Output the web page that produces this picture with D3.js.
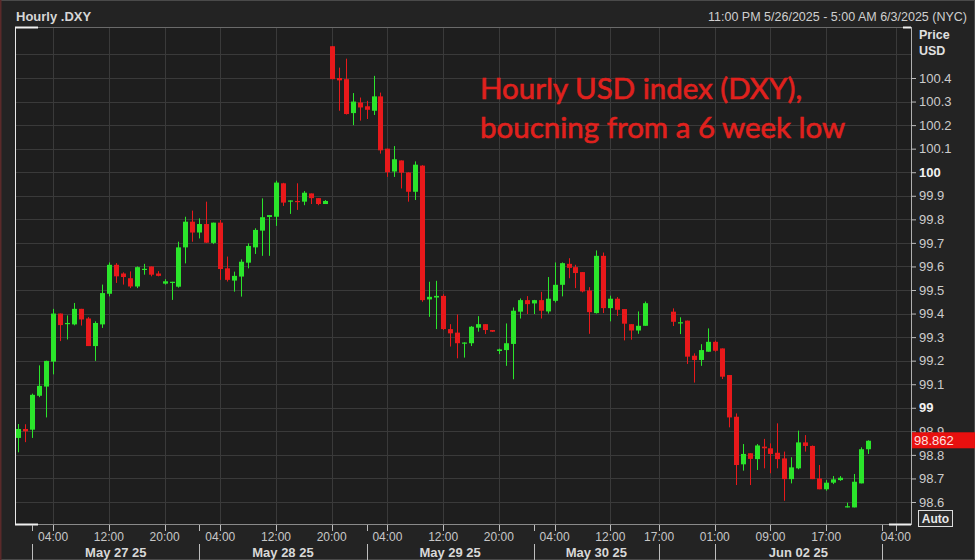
<!DOCTYPE html>
<html><head><meta charset="utf-8">
<script src="https://cdn.jsdelivr.net/npm/d3@7"></script>
<style>
html,body{margin:0;padding:0;background:#222;}
svg{display:block;}
</style></head>
<body><svg id="chart" width="975" height="560"></svg>
<script>
// ---- DATA (hourly .DXY candles) ----
const sessionStarts = [0, 94];           // slot index at which each trading session starts
const sessionLengths = [91, 29];         // candles in each session
const open = [98.872,98.91,98.907,99.051,99.09,99.196,99.4,99.355,99.354,99.42,99.379,99.262,99.354,99.484,99.607,99.57,99.55,99.515,99.585,99.6,99.57,99.527,99.53,99.514,99.681,99.79,99.744,99.78,99.7,99.786,99.592,99.54,99.557,99.616,99.681,99.752,99.81,99.811,99.953,99.875,99.878,99.875,99.91,99.89,99.865,100.535,100.4,100.395,100.251,100.296,100.28,100.261,100.322,100.1,100.003,100.05,99.999,99.917,100.028,99.46,99.468,99.475,99.334,99.319,99.275,99.274,99.34,99.355,99.33,99.241,99.245,99.271,99.408,99.457,99.443,99.457,99.409,99.454,99.522,99.611,99.597,99.576,99.498,99.402,99.645,99.423,99.463,99.419,99.355,99.328,99.348,
99.408,99.36,99.37,99.221,99.203,99.238,99.28,99.252,99.139,98.962,98.76,98.807,98.782,98.835,98.828,98.809,98.785,98.697,98.743,98.853,98.838,98.7,98.654,98.682,98.693,98.578,98.577,98.679,98.824];
const high = [98.931,98.93,99.06,99.18,99.2,99.42,99.4,99.392,99.445,99.42,99.385,99.367,99.523,99.617,99.614,99.575,99.579,99.6,99.611,99.6,99.58,99.546,99.535,99.705,99.811,99.837,99.804,99.875,99.786,99.797,99.642,99.578,99.63,99.698,99.762,99.889,99.818,99.964,99.955,99.88,99.953,99.92,99.91,99.89,99.882,100.535,100.444,100.482,100.336,100.317,100.303,100.409,100.338,100.1,100.111,100.05,100.0,100.046,100.03,99.535,99.539,99.482,99.355,99.396,99.278,99.347,99.389,99.355,99.33,99.251,99.358,99.426,99.464,99.474,99.458,99.492,99.555,99.617,99.617,99.635,99.607,99.576,99.512,99.668,99.659,99.476,99.47,99.419,99.355,99.409,99.451,
99.422,99.384,99.37,99.231,99.27,99.337,99.285,99.252,99.139,98.976,98.846,98.807,98.846,98.868,98.849,98.934,98.814,98.79,98.903,98.884,98.84,98.757,98.693,98.71,98.71,98.597,98.719,98.832,98.862];
const low = [98.811,98.854,98.872,99.045,98.959,99.142,99.283,99.29,99.35,99.349,99.262,99.199,99.339,99.473,99.53,99.523,99.508,99.508,99.565,99.558,99.558,99.523,99.458,99.51,99.613,99.705,99.719,99.7,99.695,99.543,99.536,99.493,99.472,99.592,99.653,99.645,99.645,99.772,99.857,99.823,99.84,99.86,99.865,99.86,99.865,100.395,100.261,100.245,100.2,100.219,100.226,100.243,100.079,99.98,99.98,99.931,99.875,99.882,99.45,99.386,99.334,99.33,99.26,99.21,99.213,99.262,99.323,99.313,99.322,99.228,99.178,99.121,99.379,99.398,99.398,99.379,99.4,99.447,99.473,99.55,99.508,99.49,99.314,99.4,99.402,99.367,99.39,99.286,99.289,99.314,99.348,
99.347,99.313,99.186,99.107,99.178,99.238,99.238,99.122,98.917,98.672,98.733,98.672,98.736,98.743,98.722,98.743,98.605,98.679,98.739,98.814,98.697,98.654,98.648,98.676,98.69,98.577,98.577,98.679,98.804];
const close = [98.91,98.9,99.055,99.093,99.199,99.4,99.351,99.36,99.42,99.375,99.262,99.36,99.487,99.607,99.558,99.555,99.515,99.597,99.59,99.565,99.56,99.537,99.535,99.681,99.79,99.744,99.78,99.701,99.786,99.589,99.543,99.56,99.62,99.687,99.755,99.809,99.818,99.956,99.871,99.88,99.875,99.913,99.89,99.865,99.878,100.395,100.39,100.247,100.3,100.275,100.265,100.322,100.093,100.0,100.055,99.998,99.917,100.032,99.457,99.471,99.475,99.334,99.316,99.274,99.277,99.344,99.355,99.33,99.323,99.248,99.274,99.412,99.457,99.44,99.457,99.412,99.463,99.522,99.614,99.594,99.572,99.494,99.406,99.645,99.423,99.463,99.416,99.357,99.328,99.348,99.444,
99.365,99.363,99.217,99.203,99.245,99.28,99.242,99.132,98.959,98.757,98.804,98.783,98.84,98.828,98.804,98.782,98.697,98.747,98.853,98.838,98.697,98.654,98.682,98.696,98.703,98.582,98.686,98.824,98.86];
const lastPrice = 98.862;

const priceTicks = [98.6,98.7,98.8,98.9,99,99.1,99.2,99.3,99.4,99.5,99.6,99.7,99.8,99.9,100,100.1,100.2,100.3,100.4];
const gridValues = [98.6,98.7,98.8,98.9,99,99.1,99.2,99.3,99.4,99.5,99.6,99.7,99.8,99.9,100,100.1,100.2,100.3,100.4,100.5];
const timeTickSlots  = [5,13,21,29,37,45,53,61,69,77,85,92,100,108,116,126];
const timeTickLabels = ["04:00","12:00","20:00","04:00","12:00","20:00","04:00","12:00","20:00","04:00","12:00","17:00","01:00","09:00","17:00","04:00"];
const daySepSlots = [2,26,50,74,92,100,124];
const dayLabelSlots = [14,38,62,83,112];
const dayLabels = ["May 27 25","May 28 25","May 29 25","May 30 25","Jun 02 25"];
const titleText = "Hourly .DXY";
const rangeText = "11:00 PM 5/26/2025 - 5:00 AM 6/3/2025 (NYC)";
const noteLines = ["Hourly USD index (DXY),","boucning from a 6 week low"];

// ---- BUILD ----
const slots = [];
sessionStarts.forEach((s,i)=>{ for(let k=0;k<sessionLengths[i];k++) slots.push(s+k); });
const candles = slots.map((s,i)=>({slot:s,o:open[i],h:high[i],l:low[i],c:close[i]}));

const W=975,H=560;
const plot={left:15,right:911,top:27,bottom:524};
const svg=d3.select("#chart");
const UP="#2be52b", DN="#e8191b";
const axisFont="'Liberation Sans', Arial, sans-serif";

svg.append("rect").attr("width",W).attr("height",H).attr("fill","#232323");
svg.append("rect").attr("x",0.5).attr("y",0.5).attr("width",W-1).attr("height",H-1).attr("fill","none").attr("stroke","#4a4a4a");
svg.append("line").attr("x1",0.5).attr("x2",0.5).attr("y1",0).attr("y2",H).attr("stroke","#5a2a2a").attr("stroke-width",2);
svg.append("rect").attr("x",plot.left).attr("y",plot.top).attr("width",plot.right-plot.left).attr("height",plot.bottom-plot.top).attr("fill","#1e1e1e");

const x=d3.scaleLinear().domain([0,122]).range([18.3,868]);
const y=d3.scaleLinear().domain([98.6,100.4]).range([502,78]);

svg.append("clipPath").attr("id","clip").append("rect")
  .attr("x",plot.left).attr("y",plot.top).attr("width",plot.right-plot.left).attr("height",plot.bottom-plot.top);

const g=svg.append("g").attr("clip-path","url(#clip)");
// grid
g.selectAll("line.hg").data(gridValues).join("line").attr("class","hg")
  .attr("x1",plot.left).attr("x2",plot.right).attr("y1",d=>Math.round(y(d))+0.5).attr("y2",d=>Math.round(y(d))+0.5)
  .attr("stroke","#3a3a3a").attr("stroke-width",1);
g.selectAll("line.vg").data(timeTickSlots).join("line").attr("class","vg")
  .attr("y1",plot.top).attr("y2",plot.bottom).attr("x1",d=>Math.round(x(d))+0.5).attr("x2",d=>Math.round(x(d))+0.5)
  .attr("stroke","#3a3a3a").attr("stroke-width",1);

// annotation
const note=svg.append("g");
noteLines.forEach((t,i)=>{
  note.append("text").attr("x",480).attr("y",99+i*39).text(t)
    .attr("fill","#e0211d").attr("stroke","#e0211d").attr("stroke-width",0.6)
    .attr("font-family","Lato, 'Open Sans', sans-serif").attr("font-size",29.5);
});

// candles
const cg=g.append("g");
cg.selectAll("line.wick").data(candles).join("line").attr("class","wick")
  .attr("x1",d=>Math.round(x(d.slot))+0.5).attr("x2",d=>Math.round(x(d.slot))+0.5)
  .attr("y1",d=>y(d.h)).attr("y2",d=>y(d.l))
  .attr("stroke",d=>d.c>=d.o?UP:DN).attr("stroke-width",1);
cg.selectAll("rect.body").data(candles).join("rect").attr("class","body")
  .attr("x",d=>Math.round(x(d.slot))-2).attr("width",5)
  .attr("y",d=>y(Math.max(d.o,d.c))).attr("height",d=>Math.max(1.2,Math.abs(y(d.o)-y(d.c))))
  .attr("fill",d=>d.c>=d.o?UP:DN);

// plot frame
svg.append("line").attr("x1",plot.left).attr("x2",plot.right).attr("y1",plot.top+0.5).attr("y2",plot.top+0.5).attr("stroke","#6a6a6a");
svg.append("line").attr("x1",plot.left).attr("x2",plot.right).attr("y1",plot.bottom+0.5).attr("y2",plot.bottom+0.5).attr("stroke","#8a8a8a");
svg.append("line").attr("x1",plot.left+0.5).attr("x2",plot.left+0.5).attr("y1",plot.top).attr("y2",plot.bottom).attr("stroke","#e8e8e8");
svg.append("line").attr("x1",plot.right+0.5).attr("x2",plot.right+0.5).attr("y1",plot.top).attr("y2",plot.bottom+1).attr("stroke","#b0b0b0");
[[plot.left,plot.top,plot.left+23],[plot.right-8,plot.top,plot.right],[plot.left,plot.bottom,plot.left+23],[plot.right-22,plot.bottom,plot.right]].forEach(s=>{
  svg.append("line").attr("x1",s[0]).attr("x2",s[2]).attr("y1",s[1]+0.5).attr("y2",s[1]+0.5).attr("stroke","#f0f0f0").attr("stroke-width",2);
});

// header
svg.append("text").attr("x",16).attr("y",21).text(titleText).attr("fill","#d6d6d6")
  .attr("font-family",axisFont).attr("font-weight","bold").attr("font-size",13);
svg.append("text").attr("x",967).attr("y",21).attr("text-anchor","end").text(rangeText).attr("fill","#cfcfcf")
  .attr("font-family",axisFont).attr("font-size",12.5);

// right axis
const ya=svg.append("g").attr("transform",`translate(${plot.right},0)`)
  .call(d3.axisRight(y).tickValues(priceTicks).tickSize(5).tickPadding(3)
    .tickFormat(d=>d3.format("~g")(+d.toFixed(1))));
ya.select(".domain").remove();
ya.selectAll(".tick line").attr("stroke","#bbbbbb");
ya.selectAll(".tick text").attr("font-family",axisFont).attr("font-size",13)
  .attr("font-weight",d=>Number.isInteger(+d.toFixed(1))?"bold":"normal")
  .attr("fill",d=>Number.isInteger(+d.toFixed(1))?"#f2f2f2":"#cccccc");
svg.append("text").attr("x",919).attr("y",39).text("Price").attr("fill","#e0e0e0").attr("font-family",axisFont).attr("font-weight","bold").attr("font-size",12.5);
svg.append("text").attr("x",919).attr("y",55).text("USD").attr("fill","#e0e0e0").attr("font-family",axisFont).attr("font-weight","bold").attr("font-size",12.5);

// last price tag
svg.append("rect").attr("x",912).attr("y",y(lastPrice)-8).attr("width",63).attr("height",16).attr("fill","#e8100f");
svg.append("text").attr("x",914).attr("y",y(lastPrice)+5).text(d3.format(".3f")(lastPrice))
  .attr("fill","#ffe0e0").attr("font-family",axisFont).attr("font-size",13);

// Auto box
svg.append("rect").attr("x",918.5).attr("y",510.5).attr("width",34).attr("height",16).attr("fill","#2a2a2a").attr("stroke","#dcdcdc");
svg.append("text").attr("x",935.5).attr("y",523).attr("text-anchor","middle").text("Auto").attr("fill","#e8e8e8")
  .attr("font-family",axisFont).attr("font-weight","bold").attr("font-size",12);

// bottom axis
const xa=svg.append("g");
xa.selectAll("line.tt").data(timeTickSlots.concat(daySepSlots)).join("line").attr("class","tt")
  .attr("x1",d=>Math.round(x(d))+0.5).attr("x2",d=>Math.round(x(d))+0.5).attr("y1",plot.bottom+1).attr("y2",plot.bottom+7)
  .attr("stroke","#bdbdbd");
xa.selectAll("text.tl").data(timeTickSlots).join("text").attr("class","tl")
  .attr("x",d=>x(d)).attr("y",541).attr("text-anchor","middle").text((d,i)=>timeTickLabels[i])
  .attr("fill","#c8c8c8").attr("font-family",axisFont).attr("font-size",12);
xa.selectAll("line.ds").data(daySepSlots).join("line").attr("class","ds")
  .attr("x1",d=>Math.round(x(d))+0.5).attr("x2",d=>Math.round(x(d))+0.5).attr("y1",544).attr("y2",H)
  .attr("stroke","#bdbdbd");
xa.selectAll("text.dl").data(dayLabelSlots).join("text").attr("class","dl")
  .attr("x",d=>x(d)).attr("y",557).attr("text-anchor","middle").text((d,i)=>dayLabels[i])
  .attr("fill","#d8d8d8").attr("font-family",axisFont).attr("font-weight","bold").attr("font-size",13);
</script></body></html>
